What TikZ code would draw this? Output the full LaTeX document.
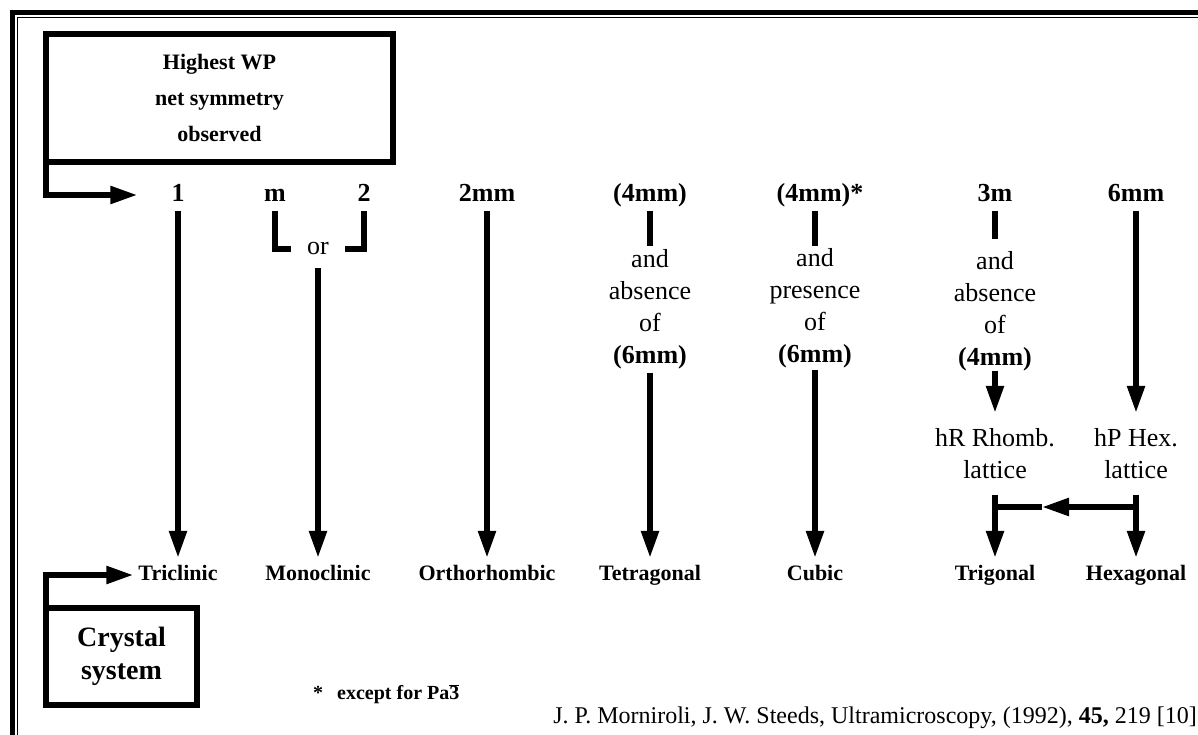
\documentclass[tikz,border=0pt]{standalone}
\usepackage{fontspec}
\setmainfont{Liberation Serif}
\usetikzlibrary{arrows.meta}
\begin{document}
\begin{tikzpicture}[x=1pt,y=-1pt,
  conn/.style={line width=5.5pt},
  arr/.style={line width=5.5pt,-{Triangle[length=27pt,width=17pt]}},
  toplab/.style={font=\fontsize{26}{32}\selectfont\bfseries, inner sep=0pt, text height=18pt, text depth=5pt, minimum height=32pt},
  botlab/.style={font=\fontsize{22}{26}\selectfont\bfseries, inner sep=0pt, text height=15pt, text depth=4pt, minimum height=34pt},
  midtxt/.style={font=\fontsize{26}{32}\selectfont, align=center, inner sep=0pt},
  bigbox/.style={draw, line width=6pt, outer sep=0pt, align=center, inner sep=0pt},
]
\useasboundingbox (0,0) rectangle (1198,735);
% frame
\begin{scope}
\clip (0,0) rectangle (1198,735);
\draw[line width=5pt] (12.5,760) -- (12.5,12.5) -- (1220,12.5);
\draw[line width=1.5pt] (17.5,760) -- (17.5,17.5) -- (1220,17.5);
\end{scope}

% header box
\node[bigbox, minimum width=347pt, minimum height=128pt, font=\fontsize{22}{36}\selectfont\bfseries] (wp) at (219.5,98) {Highest WP\\net symmetry\\observed};

% top labels
\node[toplab] (n1) at (178,195) {1};
\node[toplab] (nm) at (275,195) {m};
\node[toplab] (n2) at (364,195) {2};
\node[toplab] (n3) at (487,195) {2mm};
\node[toplab] (n4) at (650,195) {(4mm)};
\node[toplab] (n5) at (820,195) {(4mm)*};
\node[toplab] (n6) at (995,195) {3m};
\node[toplab] (n7) at (1136,195) {6mm};

% bottom labels
\node[botlab] (tri) at (178,575) {Triclinic};
\node[botlab] (mono) at (318,575) {Monoclinic};
\node[botlab] (orth) at (487,575) {Orthorhombic};
\node[botlab] (tet) at (650,575) {Tetragonal};
\node[botlab] (cub) at (815,575) {Cubic};
\node[botlab] (trig) at (995,575) {Trigonal};
\node[botlab] (hexa) at (1136,575) {Hexagonal};

% intermediate texts
\node[midtxt, minimum width=54pt, minimum height=38pt] (or) at (318,249) {or};
\node[midtxt, minimum height=126pt] (t4) at (650,309.5) {and\\absence\\of\\\textbf{(6mm)}};
\node[midtxt, minimum height=124pt] (t5) at (815,308) {and\\presence\\of\\\textbf{(6mm)}};
\node[midtxt, minimum height=112pt] (t6) at (995,311) {and\\absence\\of\\\textbf{(4mm)}};
\node[midtxt, minimum height=76pt] (hr) at (995,453.5) {hR Rhomb.\\lattice};
\node[midtxt, minimum height=76pt] (hp) at (1136,453.5) {hP Hex.\\lattice};

% crystal system box
\node[bigbox, minimum width=151pt, minimum height=97pt, font=\fontsize{28}{33}\selectfont\bfseries] (cs) at (121.5,656.5) {Crystal\\system};

% connectors
\draw[arr, shorten >=34pt] (wp.south west) |- (n1);
\draw[arr, shorten >=5pt] (cs.north west) |- (tri);
\draw[arr] (n1) -- (tri);
\draw[conn] (nm.south) |- (or.west);
\draw[conn] (n2.south) |- (or.east);
\draw[arr] (or) -- (mono);
\draw[arr] (n3) -- (orth);
\draw[conn] (n4) -- (t4);
\draw[arr] (t4) -- (tet);
\draw[conn] (n5.south -| t5.north) -- (t5.north);
\draw[arr] (t5) -- (cub);
\draw[conn, shorten >=12pt] (n6) -- (t6);
\draw[arr, shorten >=2.5pt] (t6) -- (hr);
\draw[arr, shorten >=2.5pt] (n7) -- (hp);
\draw[arr, shorten <=3pt] (hr) -- (trig);
\draw[arr, shorten <=3pt] (hp) -- (hexa);
\coordinate (hj) at (1136,507);
\coordinate (mj) at (1042,507);
\coordinate (rj) at (995,507);
\draw[arr] (hj) -- (mj);
\draw[conn] (mj) -- (rj);

% footnote and citation
\node[font=\fontsize{20}{24}\selectfont\bfseries, anchor=west, inner sep=0pt] (fn) at (313,694) {*\hspace{14pt}except for Pa$\overline{\mbox{3}}$};
\node[font=\fontsize{24}{28}\selectfont, anchor=east, inner sep=0pt] (cit) at (1197,718) {J. P. Morniroli, J. W. Steeds, Ultramicroscopy, (1992), \textbf{45,} 219 [10]};
\end{tikzpicture}
\end{document}
